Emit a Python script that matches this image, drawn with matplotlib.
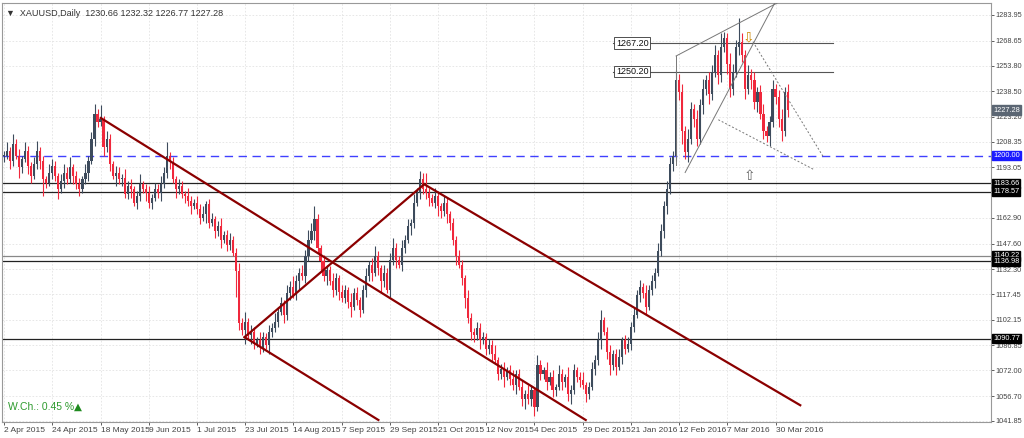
import matplotlib
matplotlib.use("Agg")
import matplotlib.pyplot as plt
import numpy as np

plt.rcParams['font.family'] = ['Liberation Sans', 'DejaVu Sans']

closes = [1200,1203,1197,1207,1200,1193,1198,1203,1194,1188,1195,1203,1197,1186,1184,1190,1194,
          1188,1180,1185,1190,1186,1193,1188,1183,1180,1186,1190,1197,1210,1225,1220,1222,
          1205,1210,1195,1188,1190,1186,1187,1177,1182,1180,1172,1176,1183,1180,1178,1172,
          1175,1180,1178,1183,1190,1200,1196,
          1186,1180,1182,1177,1176,1173,1170,1172,1168,1163,1165,1171,1160,1162,1155,1158,1150,1153,1147,1150,1142,1131,
          1100,1096,1101,1093,1095,1088,1090,1086,1092,1087,1095,1097,1101,
          1107,1112,1105,1118,1122,1117,1125,1130,1128,1140,1150,1155,1162,1145,1137,
          1128,1132,1125,1120,1127,1119,1115,1120,1113,1110,1118,1114,1108,
          1120,1128,1135,1130,1140,1133,1125,1130,1120,1138,1145,1138,1135,1145,1150,1158,1160,1172,1178,1186,
          1180,1178,1175,1172,1176,1170,1167,1172,1165,1160,
          1150,1140,1135,1127,1115,1103,1095,1093,1097,1090,
          1092,1085,1087,1082,1078,1070,1073,1068,1072,1067,1063,1070,1062,1055,1058,1055,1060,1050,
          1075,1070,1072,1065,1068,1060,1062,1070,1065,1068,1058,1060,1072,1068,1066,1063,1058,1062,
          1073,1078,1090,1102,1095,1083,1075,1082,1074,1080,1090,1085,1088,1098,1105,
          1117,1122,1118,1110,1120,1125,1130,1143,1155,1170,1180,1195,
          1200,1245,1238,1215,1202,1210,1228,1222,1210,1230,1240,1245,
          1237,1250,1260,1248,1265,1270,1255,1240,1250,1265,1268,1260,1240,1248,1245,
          1232,1238,1225,1215,1212,1220,1240,1235,1222,1215,1238,1227.28]

wick_up = [3,5,2,6,3,4,2,5,3,2,4,6,2,3,2,5,4,
           3,2,4,5,3,6,2,3,4,2,5,3,4,6,3,8,
           2,5,3,2,4,3,2,5,3,4,2,3,6,2,3,4,
           2,4,3,5,3,8,2,
           3,2,4,3,2,5,3,2,4,3,5,2,3,4,2,3,5,2,3,4,2,3,
           5,3,6,2,4,3,2,5,3,2,4,3,5,
           3,4,2,5,3,6,4,3,5,4,6,5,8,3,2,
           4,3,2,5,3,2,4,3,2,5,3,4,2,
           3,5,2,4,6,3,2,5,3,4,6,3,2,5,3,4,2,5,3,5,
           4,10,3,2,5,3,2,4,3,2,
           3,2,4,3,2,5,3,2,4,3,
           3,2,4,3,5,2,3,4,2,3,5,2,3,4,2,5,3,2,
           6,3,2,5,3,4,2,5,3,2,6,3,4,2,3,5,2,3,
           4,3,5,6,2,3,4,2,3,5,2,3,4,3,5,
           3,4,2,5,3,4,3,5,4,3,5,4,
           3,6,4,5,3,6,4,3,5,4,6,3,
           5,4,6,3,8,4,3,6,5,4,14,5,3,6,4,
           5,3,4,6,3,4,5,3,4,6,3,5]

wick_dn = [4,2,5,3,2,6,3,2,5,4,2,3,5,10,3,2,4,
           3,6,2,4,3,2,5,3,4,2,3,5,2,4,3,2,
           5,3,4,2,6,3,4,2,3,5,2,4,3,2,5,3,
           4,2,3,5,2,3,4,
           2,5,3,2,4,3,5,2,3,4,2,5,3,2,4,3,5,2,4,3,2,15,
           4,3,8,2,5,3,2,4,3,2,5,3,2,
           3,2,5,3,4,2,3,5,2,4,3,2,5,3,6,
           3,5,2,4,3,5,2,3,4,6,2,3,4,
           2,4,3,5,2,4,6,3,2,4,3,5,2,4,3,2,5,3,2,4,
           3,4,5,2,3,6,4,3,5,4,
           3,5,2,4,6,3,5,4,3,5,
           2,4,3,5,2,4,3,6,2,4,3,5,2,4,6,3,4,5,
           2,4,3,5,2,4,3,2,5,3,4,6,2,3,4,2,5,3,
           2,4,3,5,2,4,6,3,5,2,4,3,2,4,3,
           2,4,3,5,2,3,4,2,3,4,5,3,
           4,3,5,8,4,6,3,5,4,3,5,4,
           6,4,3,5,4,3,6,5,4,3,5,4,6,3,5,
           4,6,3,5,4,6,3,4,5,6,3,4]

date_labels = ["2 Apr 2015","24 Apr 2015","18 May 2015","9 Jun 2015","1 Jul 2015","23 Jul 2015",
               "14 Aug 2015","7 Sep 2015","29 Sep 2015","21 Oct 2015","12 Nov 2015","4 Dec 2015",
               "29 Dec 2015","21 Jan 2016","12 Feb 2016","7 Mar 2016","30 Mar 2016"]
date_pos = [0,16,32,48,64,80,96,112,128,144,160,176,192,208,224,240,256]
price_ticks = [1283.95,1268.65,1253.80,1238.50,1223.20,1208.35,1193.05,1162.90,1147.60,
               1132.30,1117.45,1102.15,1086.85,1072.00,1056.70,1041.85]
hlines_black = [1183.66,1178.57,1140.22,1136.98,1090.77]
level_1200 = 1200.00
last_price = 1227.28
seg_levels = [1267.20,1250.20]

n = len(closes)
c = np.array(closes, float)
o = np.concatenate([[closes[0]], c[:-1]])
hi = np.maximum(o, c) + np.array(wick_up)
lo = np.minimum(o, c) - np.array(wick_dn)
x = np.arange(n)

fig = plt.figure(figsize=(10.24, 4.38), dpi=100)
ax = fig.add_axes([2/1024, 16/438, 989/1024, 419/438])
ax.set_xlim(-0.7, 327.5)
ax.set_ylim(1041.2, 1291.1)

for p in price_ticks:
    ax.axhline(p, color="#e3e3e3", lw=0.6, ls=(0, (2, 2)), zorder=0)
for d in date_pos:
    ax.axvline(d, color="#e3e3e3", lw=0.6, ls=(0, (2, 2)), zorder=0)

up = c >= o
bull, bear = "#3d4b5c", "#f0283c"
cols = np.where(up, bull, bear)
ax.vlines(x, lo, hi, colors=cols, lw=0.8, zorder=3)
ax.bar(x, np.maximum(np.abs(c - o), 0.6), bottom=np.minimum(o, c), width=0.7, color=cols, zorder=3)

for h in hlines_black:
    ax.axhline(h, color="#222222" if h != 1140.22 else "#888888", lw=0.9, zorder=2)
ax.axhline(level_1200, color="#4040ff", lw=1.0, ls=(0, (6, 4)), zorder=2)
for lv in seg_levels:
    ax.plot([202, 275], [lv, lv], color="#555555", lw=0.8, zorder=2)
    ax.text(203, lv, f"{lv:.2f}", fontsize=6.5, va="center", ha="left", color="#111111",
            bbox=dict(boxstyle="square,pad=0.15", fc="white", ec="#333333", lw=0.6), zorder=5)

red = "#8b0000"
chan = [((32.1, 1222.5), (193.0, 1042.4)), ((79.8, 1091.8), (124.2, 1042.4)),
        ((79.8, 1091.8), (139.4, 1183.0)), ((139.4, 1183.0), (264.2, 1051.2))]
for (a, b) in chan:
    ax.plot([a[0], b[0]], [a[1], b[1]], color=red, lw=1.6, zorder=4)

g = "#777777"
ax.plot([223, 223], [1194.7, 1259.5], color=g, lw=0.7, zorder=4)
ax.plot([223, 257.5], [1259.5, 1292], color=g, lw=0.7, zorder=4)
ax.plot([226, 256], [1190, 1292], color=g, lw=0.7, zorder=4)
ax.plot([248.5, 271.8], [1268, 1199.5], color=g, lw=0.7, ls=(0, (2, 2)), zorder=4)
ax.plot([237, 269], [1221.5, 1191.5], color=g, lw=0.7, ls=(0, (2, 2)), zorder=4)
ax.text(247, 1270.5, "⇩", fontsize=10, ha="center", va="center", color="#cc8800",
        family=['DejaVu Sans'], zorder=5)
ax.text(247.5, 1188, "⇧", fontsize=10, ha="center", va="center", color="#666666",
        family=['DejaVu Sans'], zorder=5)

ax.yaxis.tick_right()
ax.set_yticks(price_ticks)
ax.set_yticklabels([f"{p:.2f}" for p in price_ticks])
ax.set_xticks(date_pos)
ax.set_xticklabels(date_labels)
ax.tick_params(axis="x", labelsize=6, colors="#444444", length=2, width=0.6, pad=1.5)
ax.tick_params(axis="y", labelsize=5.3, colors="#444444", length=2, width=0.6, pad=1)
for lab in ax.get_xticklabels():
    lab.set_ha("left")
for s in ax.spines.values():
    s.set_color("#999999"); s.set_linewidth(0.8)

def tag(v, fc, txt=None):
    ax.text(1.002, v, txt or f"{v:.2f}", transform=ax.get_yaxis_transform(), fontsize=5.3,
            color="white", va="center", ha="left",
            bbox=dict(boxstyle="square,pad=0.15", fc=fc, ec=fc), zorder=6, clip_on=False)
for h in hlines_black:
    tag(h, "black")
tag(level_1200, "#1a1aff")
tag(last_price, "#5b6673")

ax.text(0.004, 0.985, "▼  XAUUSD,Daily  1230.66 1232.32 1226.77 1227.28", transform=ax.transAxes,
        fontsize=6.5, color="#333333", va="top", family=['Liberation Sans', 'DejaVu Sans'])
ax.text(0.006, 0.025, "W.Ch.: 0.45 %", transform=ax.transAxes, fontsize=7.5, color="#2e9b2e", va="bottom")
ax.text(0.073, 0.025, "▲", transform=ax.transAxes, fontsize=7.5, color="#1f8a1f", va="bottom",
        family=['DejaVu Sans'])

fig.savefig("out.png", dpi=100)
